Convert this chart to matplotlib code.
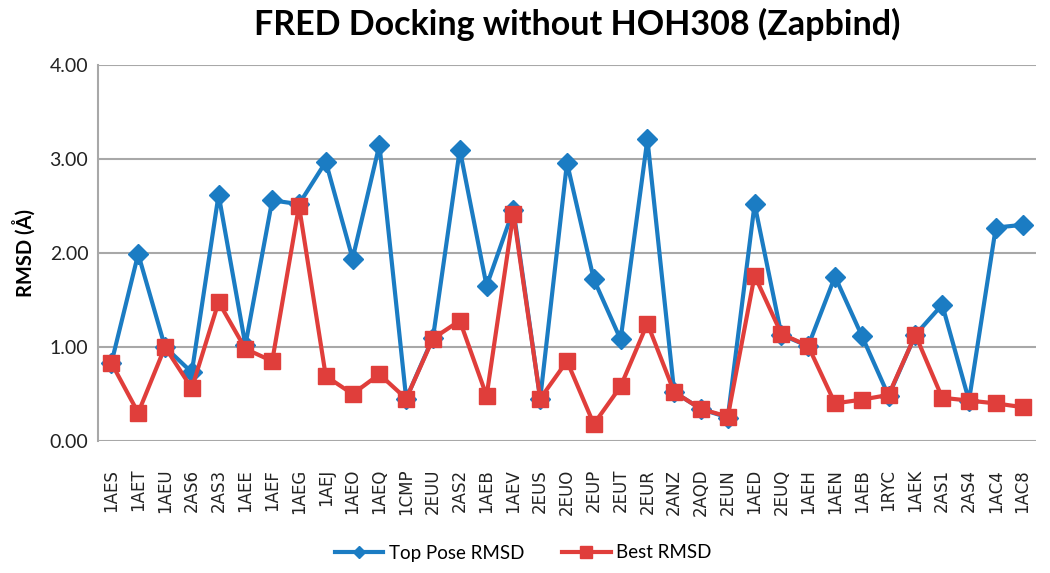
import matplotlib
matplotlib.use("Agg")
import matplotlib.pyplot as plt
from matplotlib.lines import Line2D

categories = ["1AES", "1AET", "1AEU", "2AS6", "2AS3", "1AEE", "1AEF", "1AEG", "1AEJ", "1AEO",
              "1AEQ", "1CMP", "2EUU", "2AS2", "1AEB", "1AEV", "2EUS", "2EUO", "2EUP", "2EUT",
              "2EUR", "2ANZ", "2AQD", "2EUN", "1AED", "2EUQ", "1AEH", "1AEN", "1AEB", "1RYC",
              "1AEK", "2AS1", "2AS4", "1AC4", "1AC8"]
top_pose = [0.83, 1.99, 1.00, 0.73, 2.62, 1.02, 2.56, 2.52, 2.97, 1.94,
            3.15, 0.45, 1.10, 3.10, 1.65, 2.46, 0.45, 2.96, 1.72, 1.08,
            3.21, 0.52, 0.34, 0.25, 2.52, 1.13, 1.01, 1.75, 1.12, 0.48,
            1.13, 1.45, 0.43, 2.27, 2.30]
best = [0.83, 0.30, 1.00, 0.56, 1.48, 0.98, 0.85, 2.50, 0.69, 0.50,
        0.71, 0.45, 1.09, 1.28, 0.48, 2.42, 0.45, 0.85, 0.18, 0.58,
        1.25, 0.52, 0.34, 0.26, 1.76, 1.14, 1.01, 0.40, 0.44, 0.49,
        1.13, 0.46, 0.43, 0.40, 0.36]
yticks = [0.0, 1.0, 2.0, 3.0, 4.0]

blue = "#1b7cc3"
red = "#e03e3b"
grid = "#a8a8a8"

fig = plt.figure(figsize=(10.5, 5.73), dpi=100)
ax = fig.add_axes([98/1050, 1-441/573, (1036-98)/1050, (441-65)/573])

x = list(range(len(categories)))
ax.plot(x, top_pose, color=blue, lw=3, marker="D", ms=10, zorder=3)
ax.plot(x, best, color=red, lw=3, marker="s", ms=12, zorder=4)

ax.set_xlim(-0.5, len(categories) - 0.5)
ax.set_ylim(0, 4)
ax.set_yticks(yticks)
ax.set_yticklabels([f"{v:.2f}" for v in yticks], fontfamily="Lato", fontsize=14)
ax.set_xticks(x)
ax.set_xticklabels(categories, rotation=90, fontfamily="DejaVu Sans", fontsize=12)
ax.tick_params(axis="both", length=0, colors="#222222")
ax.tick_params(axis="y", pad=7)
ax.tick_params(axis="x", pad=20)
ax.yaxis.grid(True, color=grid, lw=1.5)
ax.set_axisbelow(True)
for s in ["top", "right", "bottom"]:
    ax.spines[s].set_visible(False)
ax.spines["left"].set_color(grid)
ax.spines["left"].set_linewidth(1.5)

ax.set_ylabel("RMSD (Å)", fontfamily="Lato", fontweight="bold", fontsize=14.5, labelpad=10)

fig.text(577/1050, 1-24/573, "FRED Docking without HOH308 (Zapbind)", ha="center", va="center",
         fontfamily="Lato", fontweight="bold", fontsize=24.5)

handles = [Line2D([], [], color=blue, lw=3, marker="D", ms=6),
           Line2D([], [], color=red, lw=3, marker="s", ms=8)]
fig.legend(handles, ["Top Pose RMSD", "Best RMSD"], loc="center", bbox_to_anchor=(523/1050, 1-553/573),
           ncol=2, frameon=False, prop={"family": "Lato", "size": 13.5}, handlelength=2.6,
           handletextpad=0.3, columnspacing=2.0)

fig.savefig("out.png", dpi=100)
